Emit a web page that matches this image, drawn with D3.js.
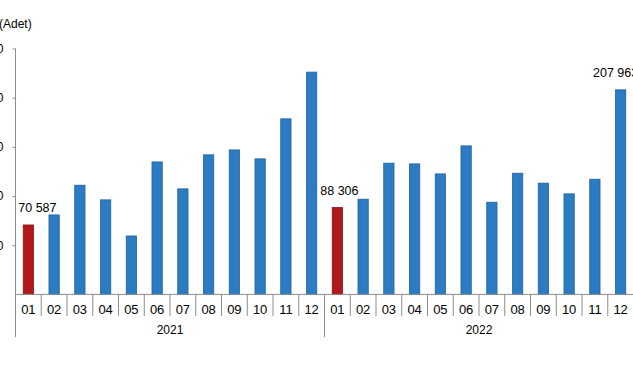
<!DOCTYPE html>
<html>
<head>
<meta charset="utf-8">
<script src="https://cdn.jsdelivr.net/npm/d3@7"></script>
<style>
  html, body { margin: 0; padding: 0; background: #fff; }
  svg { display: block; font-family: "Liberation Sans", Arial, sans-serif; }
</style>
</head>
<body>
<svg id="chart" width="633" height="375"></svg>
<script>
const years = ["2021", "2022"];
const months = ["01","02","03","04","05","06","07","08","09","10","11","12"];
const values2021 = [70587, 80800, 111000, 96100, 59400, 134700, 107300, 141900, 146900, 137800, 178500, 226000];
const values2022 = [88306, 96800, 133400, 132700, 122500, 151000, 93700, 123200, 113100, 102200, 117100, 207963];
const yTicks = [50000, 100000, 150000, 200000, 250000];
const labelled = [
  { year: "2021", month: "01", text: "70 587" },
  { year: "2022", month: "01", text: "88 306" },
  { year: "2022", month: "12", text: "207 963" }
];
const unitLabel = "(Adet)";

(function () {
const data = [];
years.forEach((yr, yi) => {
  const vals = yi === 0 ? values2021 : values2022;
  months.forEach((m, mi) => data.push({ key: yr + "-" + m, year: yr, month: m, value: vals[mi] }));
});

const svg = d3.select("#chart");
const plotLeft = 15.5, plotRight = 633.5, base = 294.4, plotTop = 48.5;
const axisColor = "#8c8c8c";

const x = d3.scaleBand().domain(data.map(d => d.key)).range([plotLeft, plotRight]).paddingInner(0).paddingOuter(0);
const y = d3.scaleLinear().domain([0, 250000]).range([base, plotTop]);
const barW = x.bandwidth() * 0.4;

// bars
svg.append("g").selectAll("rect").data(data).join("rect")
  .attr("x", d => x(d.key) + (x.bandwidth() - barW) / 2)
  .attr("y", d => y(d.value))
  .attr("width", barW)
  .attr("height", d => y(0) - y(d.value))
  .attr("fill", d => d.month === "01" ? "#b0181c" : "#2b7cc2")
  .attr("stroke", d => d.month === "01" ? "#8a1214" : "#22629b")
  .attr("stroke-width", 0.8);

// y axis
const fmt = v => d3.format(",")(v).replace(/,/g, " ");
const yAxis = svg.append("g").attr("transform", `translate(${plotLeft},0)`)
  .call(d3.axisLeft(y).tickValues(yTicks).tickSize(3).tickPadding(9).tickFormat(fmt));
yAxis.select(".domain").remove();
yAxis.selectAll(".tick line").attr("stroke", axisColor);
yAxis.selectAll(".tick text").attr("font-size", 12).attr("fill", "#000").attr("font-family", "Liberation Sans, Arial, sans-serif");
svg.append("line").attr("x1", plotLeft).attr("x2", plotLeft).attr("y1", y(250000)).attr("y2", 337)
  .attr("stroke", axisColor).attr("stroke-width", 1);

// x baseline
svg.append("line").attr("x1", plotLeft).attr("x2", plotRight).attr("y1", base).attr("y2", base)
  .attr("stroke", axisColor).attr("stroke-width", 1);

// month dividers & labels
const g = svg.append("g");
data.forEach((d, i) => {
  if (i > 0) {
    const isYear = d.month === "01";
    g.append("line").attr("x1", x(d.key)).attr("x2", x(d.key))
      .attr("y1", base).attr("y2", isYear ? 337 : 316)
      .attr("stroke", axisColor).attr("stroke-width", 1);
  }
  g.append("text").attr("x", x(d.key) + x.bandwidth() / 2).attr("y", 313.5)
    .attr("text-anchor", "middle").attr("font-size", 13).text(d.month);
});

// year labels
years.forEach(yr => {
  const first = x(yr + "-01"), last = x(yr + "-12") + x.bandwidth();
  svg.append("text").attr("x", (first + last) / 2).attr("y", 334)
    .attr("text-anchor", "middle").attr("font-size", 12).text(yr);
});

// data labels
const dxMap = { "2021-01": 9, "2022-01": 2, "2022-12": -5 };
labelled.forEach(l => {
  const key = l.year + "-" + l.month;
  const d = data.find(e => e.key === key);
  svg.append("text").attr("x", x(key) + x.bandwidth() / 2 + dxMap[key])
    .attr("y", y(d.value) - 13).attr("text-anchor", "middle").attr("font-size", 12.5).text(l.text);
});

// unit label
svg.append("text").attr("x", -1).attr("y", 28).attr("font-size", 12).text(unitLabel);
})();
</script>
</body>
</html>
